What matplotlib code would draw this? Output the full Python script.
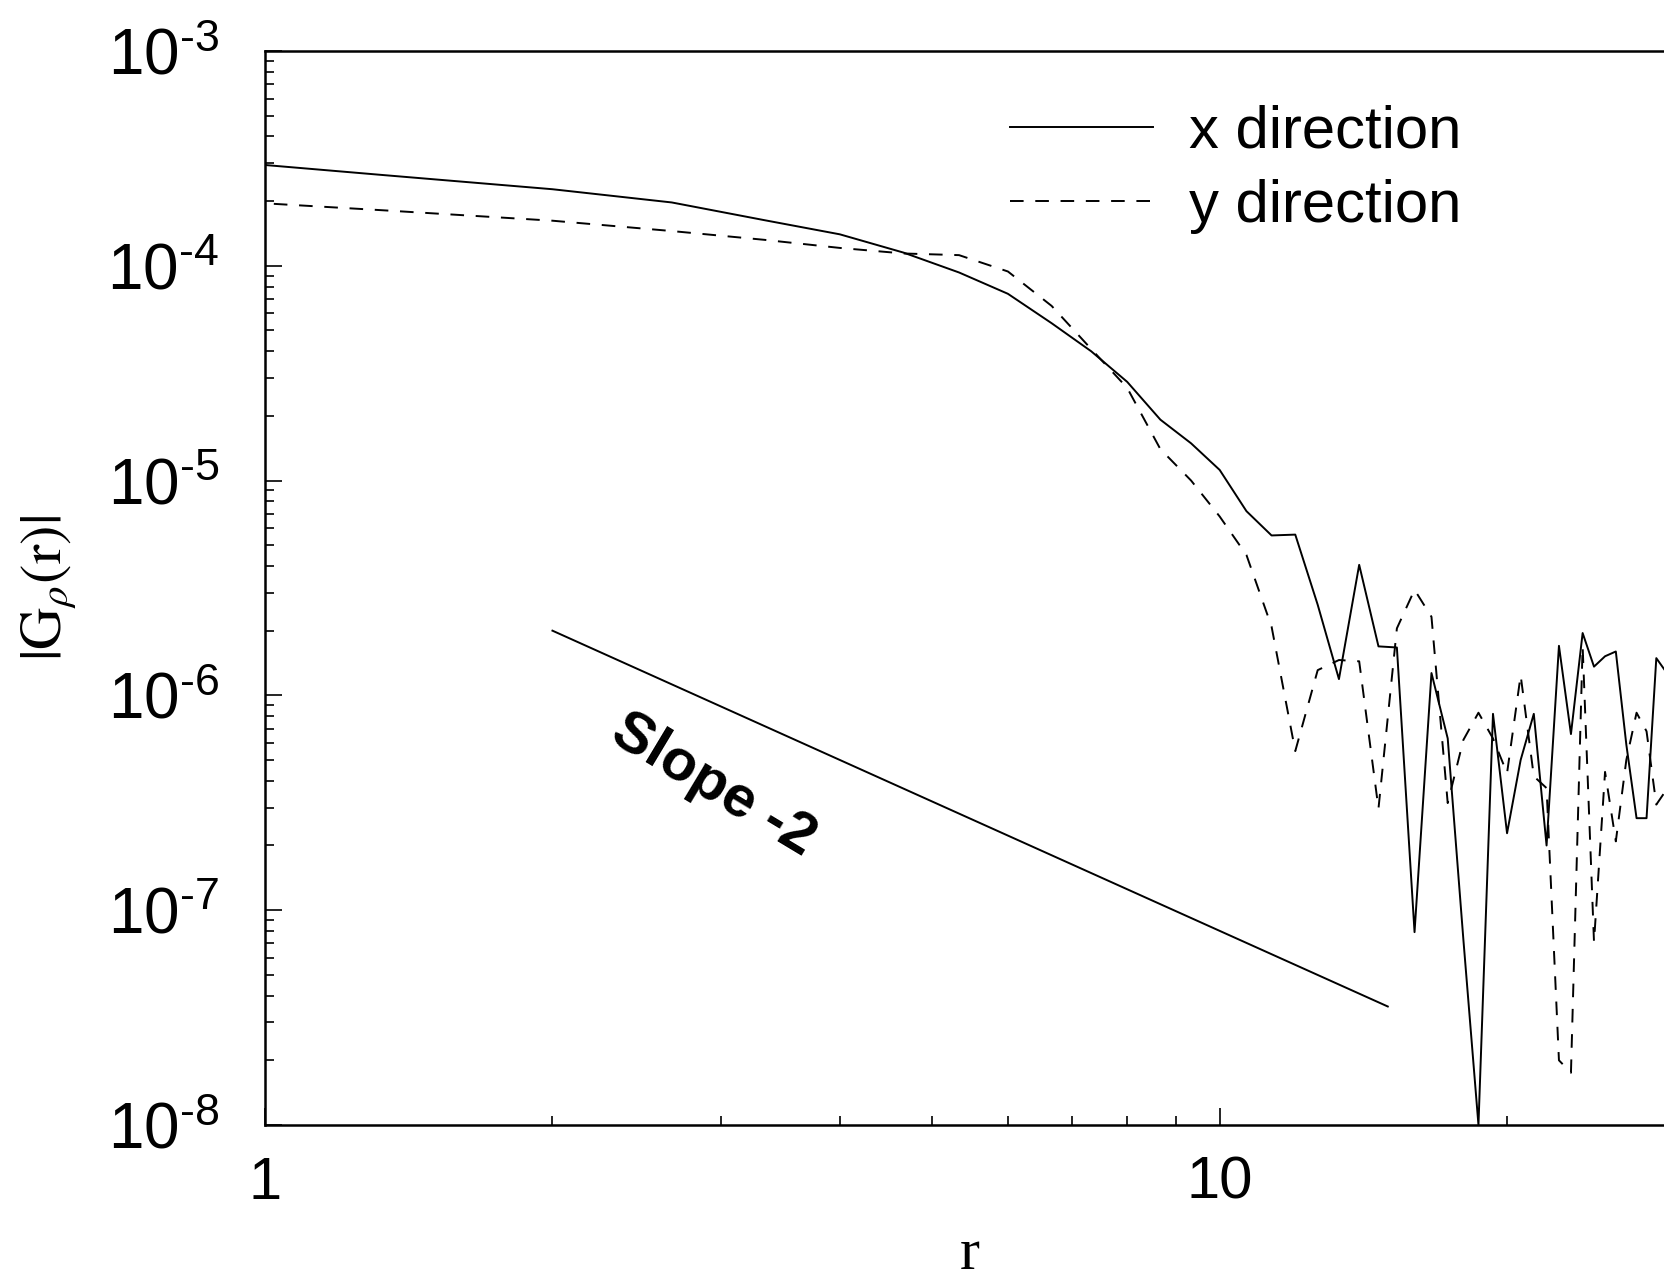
import matplotlib
matplotlib.use("Agg")
import matplotlib.pyplot as plt
from matplotlib.ticker import LogLocator, NullFormatter

# separation r and |G_rho(r)| measured along x and along y
r = [0.667, 1.333, 2.0, 2.667, 3.333, 4.0, 4.667, 5.333, 6.0, 6.667,
     7.333, 8.0, 8.667, 9.333, 10.0, 10.667, 11.333, 12.0, 12.667, 13.333,
     14.0, 14.667, 15.333, 16.0, 16.667, 17.333, 18.0, 18.667, 19.333, 20.0,
     20.667, 21.333, 22.0, 22.667, 23.333, 24.0, 24.667, 25.333, 26.0, 26.667,
     27.333, 28.0, 28.667, 29.333]

g_x = [3.43e-4, 2.64e-4, 2.27e-4, 1.97e-4, 1.63e-4, 1.40e-4, 1.15e-4, 9.3e-5, 7.4e-5, 5.4e-5,
       4.0e-5, 2.88e-5, 1.92e-5, 1.49e-5, 1.12e-5, 7.2e-6, 5.55e-6, 5.6e-6, 2.64e-6, 1.19e-6,
       4.05e-6, 1.69e-6, 1.67e-6, 7.9e-8, 1.27e-6, 6.3e-7, 7.3e-8, 1.0e-8, 8.2e-7, 2.28e-7,
       5.0e-7, 8.2e-7, 2.0e-7, 1.70e-6, 6.6e-7, 1.95e-6, 1.36e-6, 1.52e-6, 1.60e-6, 5.9e-7,
       2.68e-7, 2.68e-7, 1.49e-6, 1.29e-6]

g_y = [2.17e-4, 1.81e-4, 1.62e-4, 1.45e-4, 1.32e-4, 1.21e-4, 1.14e-4, 1.12e-4, 9.4e-5, 6.5e-5,
       4.1e-5, 2.7e-5, 1.40e-5, 1.0e-5, 6.8e-6, 4.5e-6, 2.09e-6, 5.5e-7, 1.31e-6, 1.46e-6,
       1.44e-6, 2.97e-7, 2.05e-6, 3.1e-6, 2.32e-6, 3.15e-7, 6.2e-7, 8.3e-7, 6.3e-7, 4.34e-7,
       1.24e-6, 4.2e-7, 3.7e-7, 2.0e-8, 1.75e-8, 1.69e-6, 7.1e-8, 4.4e-7, 2.09e-7, 5.0e-7,
       8.3e-7, 6.8e-7, 3.1e-7, 3.6e-7]

# reference power law with slope -2
slope_r = [2.0, 15.0]
slope_g = [2.0e-6, 3.56e-8]

decades = [1e-8, 1e-7, 1e-6, 1e-5, 1e-4, 1e-3]
decade_labels = [r"$\mathregular{10^{\text{-}%d}}$" % e for e in (8, 7, 6, 5, 4, 3)]

plt.rcParams.update({
    "font.family": "Liberation Sans",
    "mathtext.fontset": "custom",
    "mathtext.rm": "Liberation Sans",
    "mathtext.it": "Liberation Sans:italic",
    "mathtext.bf": "Liberation Sans:bold",
})

fig = plt.figure(figsize=(16.64, 12.82), dpi=100)
ax = fig.add_axes([0.1593, 0.1225, 0.8474, 0.8378])

ax.plot(r, g_x, color="black", lw=1.4, label="x direction")
ax.plot(r, g_y, color="black", lw=1.4, dashes=(7, 6), label="y direction")
ax.plot(slope_r, slope_g, color="black", lw=1.4)

ax.set_xscale("log")
ax.set_yscale("log")
ax.set_xlim(1, 30)
ax.set_ylim(1e-8, 1e-3)

ax.set_xticks([1, 10], ["1", "10"])
ax.xaxis.set_minor_locator(LogLocator(base=10, subs=[2, 3, 4, 5, 6, 7, 8, 9]))
ax.xaxis.set_minor_formatter(NullFormatter())
ax.set_yticks(decades, decade_labels)
ax.yaxis.set_minor_locator(LogLocator(base=10, subs=[2, 3, 4, 5, 6, 7, 8, 9]))
ax.yaxis.set_minor_formatter(NullFormatter())

ax.tick_params(which="both", direction="in", top=False, right=False, width=1.2)
ax.tick_params(which="major", length=12)
ax.tick_params(which="minor", length=6.5)
ax.tick_params(axis="x", which="major", pad=22, labelsize=43)
ax.tick_params(axis="y", which="major", pad=33, labelsize=46)

for side in ("left", "bottom", "top", "right"):
    ax.spines[side].set_linewidth(1.8)

ax.set_xlabel("r", fontname="Liberation Serif", fontsize=43, va="baseline")
ax.xaxis.set_label_coords(0.5, -0.134)
ax.set_ylabel(r"$|\mathrm{G}_{\rho}(\mathrm{r})|$", fontsize=42, math_fontfamily="stix")
ax.yaxis.set_label_coords(-0.132, 0.5)

ax.text(2.945, 3.8e-7, "Slope -2", rotation=-31, fontsize=42, fontweight="bold",
        ha="center", va="center", rotation_mode="anchor")

ax.legend(loc="upper left", bbox_to_anchor=(0.528, 0.950), frameon=False, fontsize=43,
          handlelength=2.4, handletextpad=0.6, labelspacing=0.32,
          borderaxespad=0, borderpad=0)

fig.savefig("out.png", dpi=100)
